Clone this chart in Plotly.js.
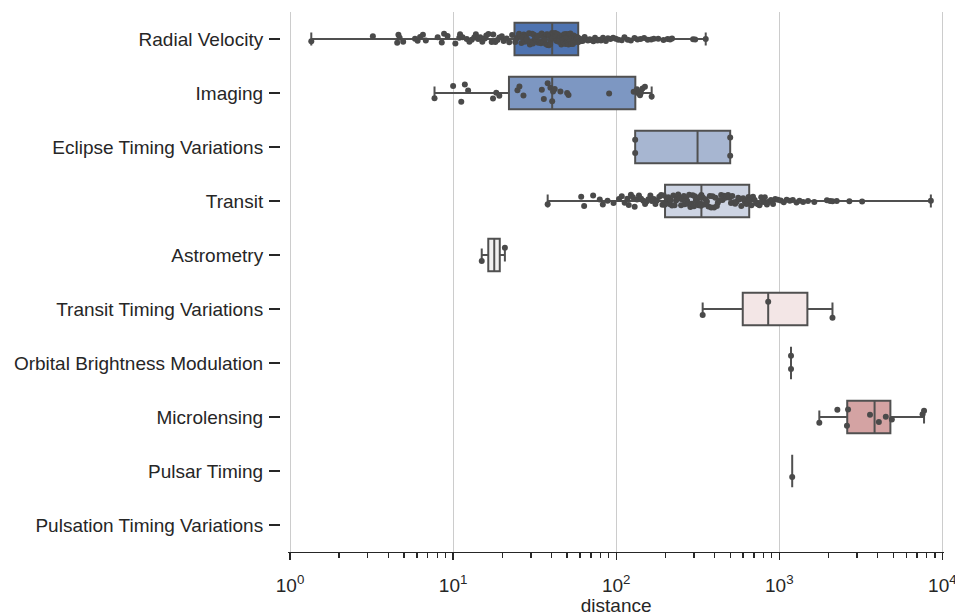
<!DOCTYPE html>
<html><head><meta charset="utf-8">
<script src="https://cdn.plot.ly/plotly-3.0.1.min.js"></script>
<style>html,body{margin:0;padding:0;background:#fff}#chart{width:955px;height:616px}</style>
</head><body><div id="chart"></div>
<script>
const methods = ["Radial Velocity", "Imaging", "Eclipse Timing Variations", "Transit", "Astrometry",
  "Transit Timing Variations", "Orbital Brightness Modulation", "Microlensing", "Pulsar Timing",
  "Pulsation Timing Variations"];

const radialVelocity = [1.35, 3.22, 4.54, 4.62, 4.7, 4.94, 5.84, 6.06, 6.27, 6.53, 6.8, 8.04, 8.52, 8.8, 9.24,
  10.32, 10.91, 11.03, 11.43, 12.12, 12.58, 13.01, 13.47, 13.79, 14.23, 14.66, 15.1, 15.64, 15.98, 16.47,
  17.24, 17.62, 18.15, 18.69, 19.2, 19.89, 20.41, 21.3, 22.08, 23.0,
  24.05, 24.48, 25.0, 25.35, 25.87, 26.21, 26.63, 27.1, 27.46, 27.9, 28.35, 28.76, 29.2, 29.55, 30.12,
  30.5, 30.88, 31.33, 31.8, 32.26, 32.7, 33.24, 33.6, 34.0, 34.57, 34.9, 35.33, 35.8, 36.15, 36.6,
  37.05, 37.48, 37.9, 38.26, 38.7, 39.04, 39.39, 39.72, 40.1, 40.39,
  40.62, 41.0, 41.38, 41.8, 42.24, 42.7, 43.1, 43.53, 43.9, 44.37, 44.8, 45.25, 45.69, 46.12, 46.54,
  47.0, 47.42, 47.92, 48.3, 48.82, 49.25, 49.7, 50.13, 50.61, 51.0, 51.48, 52.03, 52.41, 52.9, 53.37,
  53.81, 54.3, 54.83, 55.27, 55.8, 56.3, 56.82, 57.29, 57.84, 58.3,
  59.03, 60.24, 61.49, 62.25, 64.02, 65.62, 67.04, 68.85, 70.2, 72.46, 74.13, 76.8, 78.54, 80.64, 82.98,
  86.43, 89.02, 92.21, 95.75, 99.4, 103.04, 108.11, 112.36, 117.65, 123.0, 129.53, 135.14, 141.0, 148.28,
  155.97, 163.93, 170.07, 181.0, 195.0, 206.61, 214.0, 220.0, 296.0, 305.0, 354.0];

const imaging = [7.69, 10.0, 11.22, 11.8, 12.36, 17.57, 18.39, 19.2, 24.8, 25.5, 27.0, 35.0, 36.0, 38.0,
  39.5, 40.5, 41.0, 42.0, 45.5, 50.0, 51.0, 90.5, 128.0, 134.0, 136.0, 138.0, 140.0, 142.0, 145.0, 150.0, 165.0];

const eclipseTiming = [130.72, 130.72, 500.0, 500.0];

const transit = [38.0, 61.0, 63.6, 72.2, 79.3, 82.8, 88.5, 96.3, 104.0, 108.2, 112.7, 117.0, 119.4, 123.1,
  126.5, 129.8, 134.2, 137.9, 142.0, 146.6, 150.3, 153.0, 157.7, 162.0, 165.4, 169.9, 174.0, 177.6, 183.8,
  188.5, 192.0, 195.7,
  198.0, 200.6, 204.3, 208.7, 212.0, 215.5, 219.8, 224.2, 228.0, 232.9, 236.5, 240.0, 245.3, 250.0, 254.6,
  259.9, 263.0, 268.2, 272.5, 276.0, 280.3, 285.0, 290.6, 294.8, 300.0, 303.4, 308.1, 312.0, 316.7, 320.0,
  324.9, 328.3, 331.0,
  333.0, 339.5, 345.0, 352.4, 360.0, 367.8, 375.0, 382.2, 390.0, 398.5, 406.0, 414.3, 420.0, 430.1, 440.0,
  448.7, 457.0, 466.5, 475.0, 485.2, 495.0, 505.6, 515.0, 525.8, 536.0, 547.3, 560.0, 572.4, 585.0, 600.0,
  615.2, 630.0, 648.0,
  660.0, 675.3, 690.0, 706.4, 722.0, 740.0, 756.5, 775.0, 795.2, 815.0, 840.0, 862.3, 889.0, 915.7, 945.0,
  980.0, 1020.0, 1065.5, 1110.0, 1160.0, 1210.0, 1275.0, 1330.0, 1400.0, 1500.0, 1640.0, 1960.0, 2050.0,
  2119.0, 2250.0, 2690.0, 3220.0, 8500.0];

const astrometry = [14.98, 20.77];
const transitTiming = [339.0, 855.0, 2119.0];
const orbitalBrightness = [1180.0, 1180.0];
const microlensing = [1760.0, 2270.0, 2600.0, 2640.0, 3600.0, 4080.0, 4500.0, 4900.0, 7560.0, 7720.0];
const pulsarTiming = [1200.0];
const pulsationTiming = [];

const seriesByMethod = [radialVelocity, imaging, eclipseTiming, transit, astrometry, transitTiming,
  orbitalBrightness, microlensing, pulsarTiming, pulsationTiming];

const boxColors = ["#4e73b0", "#7d97c2", "#a7b6d1", "#cdd4e3", "#f1f0f0", "#f3e6e6", "#e8cccc",
  "#d4a3a3", "#c07b7d", "#a84d50"];
const jitterByMethod = [0.4, 0.7, 0.7, 0.4, 0.7, 0.7, 0.7, 0.7, 0.7, 0.7];

const tickVals = [1, 10, 100, 1000, 10000];
const tickText = ["10<sup>0</sup>", "10<sup>1</sup>", "10<sup>2</sup>", "10<sup>3</sup>", "10<sup>4</sup>"];

function quantile(sorted, p) {
  const idx = (sorted.length - 1) * p;
  const lo = Math.floor(idx), hi = Math.ceil(idx);
  return sorted[lo] + (sorted[hi] - sorted[lo]) * (idx - lo);
}

const minorVals = [];
for (let k = 0; k < 4; k++) for (let m = 2; m <= 9; m++) minorVals.push(m * Math.pow(10, k));

const lineColor = "#505050";
const traces = [];
traces.push({type: "scatter", mode: "markers", y: methods, x: methods.map(() => null),
  showlegend: false, hoverinfo: "skip"});

methods.forEach((m, i) => {
  const vals = seriesByMethod[i];
  if (!vals.length) return;
  const s = vals.slice().sort((a, b) => a - b);
  traces.push({
    type: "box", orientation: "h", y: [m],
    q1: [quantile(s, 0.25)], median: [quantile(s, 0.5)], q3: [quantile(s, 0.75)],
    lowerfence: [s[0]], upperfence: [s[s.length - 1]],
    width: 0.6, whiskerwidth: 0.4, fillcolor: boxColors[i],
    line: {color: lineColor, width: 2}, boxpoints: false, hoverinfo: "skip", showlegend: false
  });
});

methods.forEach((m, i) => {
  const vals = seriesByMethod[i];
  if (!vals.length) return;
  traces.push({
    type: "box", orientation: "h", x: vals, y: vals.map(() => m),
    boxpoints: "all", jitter: jitterByMethod[i], pointpos: 0, width: 0.6,
    fillcolor: "rgba(0,0,0,0)", line: {width: 0, color: "rgba(0,0,0,0)"},
    marker: {color: "#4a4a4a", size: 6, opacity: 1},
    hoverinfo: "skip", showlegend: false
  });
});

const axisColor = "#262626";
const layout = {
  width: 955, height: 616,
  margin: {l: 270, r: 11, t: 12, b: 64},
  paper_bgcolor: "#ffffff", plot_bgcolor: "#ffffff",
  showlegend: false, boxmode: "overlay",
  font: {family: "Liberation Sans, Arial, sans-serif", size: 19, color: axisColor},
  xaxis: {
    type: "log", domain: [0.0273, 1], range: [-0.01, 4.01],
    tickmode: "array", tickvals: tickVals, ticktext: tickText,
    ticks: "outside", ticklen: 7, tickwidth: 1.25, tickcolor: axisColor,
    showline: true, linecolor: axisColor, linewidth: 1.25,
    showgrid: true, gridcolor: "#cccccc", gridwidth: 1, zeroline: false,
    minor: {tickvals: minorVals, ticks: "outside", ticklen: 4.5, tickwidth: 1.25,
      tickcolor: axisColor, showgrid: false},
    tickfont: {size: 19}, ticklabelstandoff: 9, ticklabeloverflow: "allow",
    title: {text: "distance", font: {size: 19}, standoff: 11}
  },
  yaxis: {
    type: "category", categoryorder: "array", categoryarray: methods, range: [9.5, -0.5],
    anchor: "free", position: 0.01484,
    showline: false, showgrid: false, zeroline: false,
    ticks: "outside", ticklen: 11, tickwidth: 1.25, tickcolor: axisColor,
    tickfont: {size: 19}, ticklabelstandoff: 2
  }
};

Plotly.newPlot("chart", traces, layout, {displayModeBar: false, staticPlot: true});
</script>
</body></html>
